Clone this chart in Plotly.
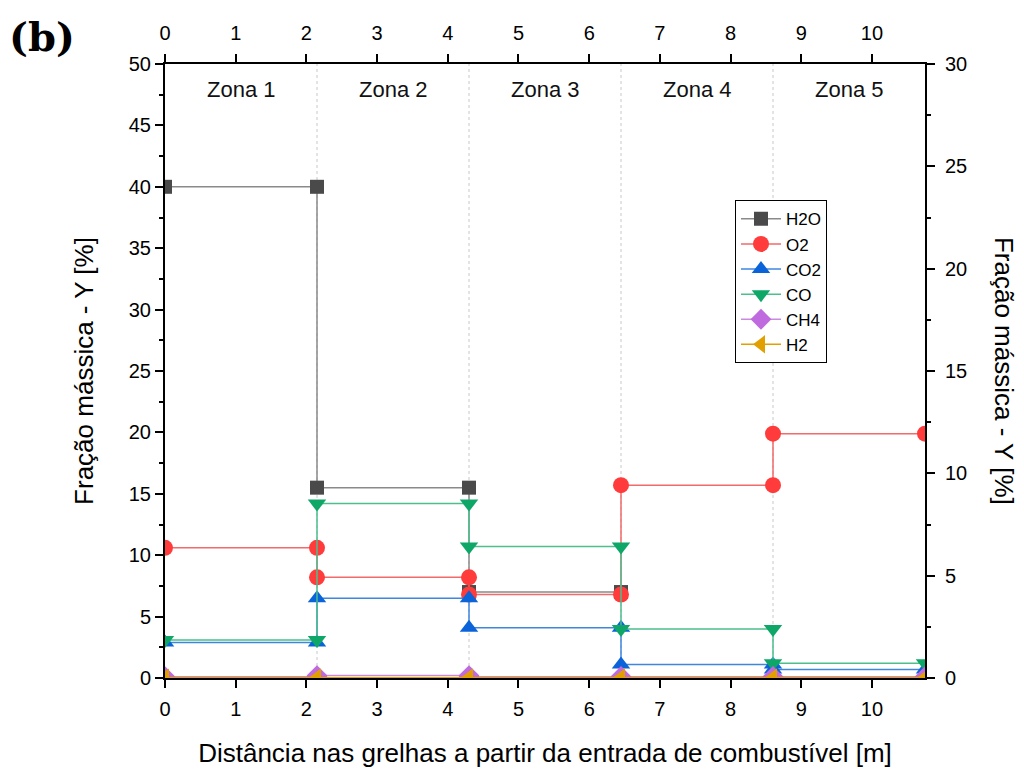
import plotly.graph_objects as go

# Zone boundaries (m)
zone_edges = [0, 2.15, 4.3, 6.45, 8.6, 10.75]
zone_labels = ["Zona 1", "Zona 2", "Zona 3", "Zona 4", "Zona 5"]
x_ticks = list(range(11))

# Mass fraction per zone [%]
h2o = [40.0, 15.5, 7.0]
o2 = [10.6, 8.2, 6.8, 15.7, 19.9]
co2 = [2.9, 6.5, 4.1, 1.1, 0.7]
co = [3.1, 14.2, 10.7, 4.0, 1.2]
ch4 = [0.1, 0.2, 0.1, 0.1, 0.1]
h2 = [0.02, 0.02, 0.02, 0.02, 0.02]

series = [
    ("H2O", h2o, "square", "#4a4a4a", "#8a8a8a", 14),
    ("O2", o2, "circle", "#ff3b3b", "#f26a6a", 16),
    ("CO2", co2, "triangle-up", "#0a63d8", "#3f86e0", 16),
    ("CO", co, "triangle-down", "#0ea768", "#4cbf8d", 16),
    ("CH4", ch4, "diamond", "#c06adf", "#c88be0", 16),
    ("H2", h2, "triangle-left", "#e2a000", "#e2a000", 16),
]

fig = go.Figure()
for name, vals, sym, mcol, lcol, msize in series:
    xs, ys = [], []
    for i, v in enumerate(vals):
        xs += [zone_edges[i], zone_edges[i + 1]]
        ys += [v, v]
    fig.add_trace(go.Scatter(
        x=xs, y=ys, name=name, mode="lines+markers",
        line=dict(color=lcol, width=1.5),
        marker=dict(symbol=sym, size=msize, color=mcol),
    ))

# invisible helper trace so the top / right axes are drawn
fig.add_trace(go.Scatter(x=[zone_edges[0], zone_edges[-1]], y=[0, 0], xaxis="x2", yaxis="y2",
                         mode="lines", line=dict(width=0), opacity=0, showlegend=False,
                         hoverinfo="skip"))

# dotted zone separators
for xb in zone_edges[1:-1]:
    fig.add_shape(type="line", xref="x", yref="paper", x0=xb, x1=xb, y0=0, y1=1,
                  line=dict(color="#c8c8c8", width=1, dash="dot"), layer="below")

for i, lab in enumerate(zone_labels):
    fig.add_annotation(x=(zone_edges[i] + zone_edges[i + 1]) / 2, y=0.958, xref="x", yref="paper",
                       yanchor="middle", text=lab, showarrow=False,
                       font=dict(size=22, color="#111"))

fig.add_annotation(x=-0.208, y=1.045, xref="paper", yref="paper", text="<b>(b)</b>",
                   showarrow=False, font=dict(family="DejaVu Serif", size=40, color="black"),
                   xanchor="left", yanchor="middle")

fig.add_annotation(x=1.104, y=0.5, xref="paper", yref="paper", text="Fração mássica - Y [%]",
                   textangle=90, showarrow=False, font=dict(size=26, color="black"),
                   xanchor="center", yanchor="middle")

axis_common = dict(showline=True, linecolor="black", linewidth=2, ticks="outside",
                   tickcolor="black", ticklen=8, tickwidth=1.5, showgrid=False, zeroline=False,
                   automargin=False, tickfont=dict(size=20, color="black"))

fig.update_layout(
    width=1016, height=763,
    margin=dict(l=157, r=99, t=56, b=93),
    plot_bgcolor="white", paper_bgcolor="white",
    font=dict(family="Liberation Sans, Arial", color="black"),
    showlegend=True,
    legend=dict(x=0.75, y=0.778, xanchor="left", yanchor="top", bgcolor="white",
                bordercolor="black", borderwidth=1, font=dict(size=17),
                tracegroupgap=0, itemwidth=40),
    xaxis=dict(range=[0, 10.75], tickmode="array", tickvals=x_ticks, ticklabelstandoff=4,
               title=dict(text="Distância nas grelhas a partir da entrada de combustível [m]",
                          font=dict(size=26), standoff=25), **axis_common),
    xaxis2=dict(range=[0, 10.75], overlaying="x", side="top", anchor="y", ticklabelstandoff=6,
                tickmode="array", tickvals=x_ticks, **axis_common),
    yaxis=dict(range=[0, 50], dtick=5, minor=dict(dtick=2.5, ticks="outside", ticklen=4, tickcolor="black"),
               title=dict(text="Fração mássica - Y [%]", font=dict(size=26), standoff=28),
               **axis_common),
    yaxis2=dict(range=[0, 30], dtick=5, overlaying="y", side="right", anchor="x", ticklabelstandoff=6,
                minor=dict(dtick=2.5, ticks="outside", ticklen=4, tickcolor="black"),
                **axis_common),
)

fig.write_html("out.html")
